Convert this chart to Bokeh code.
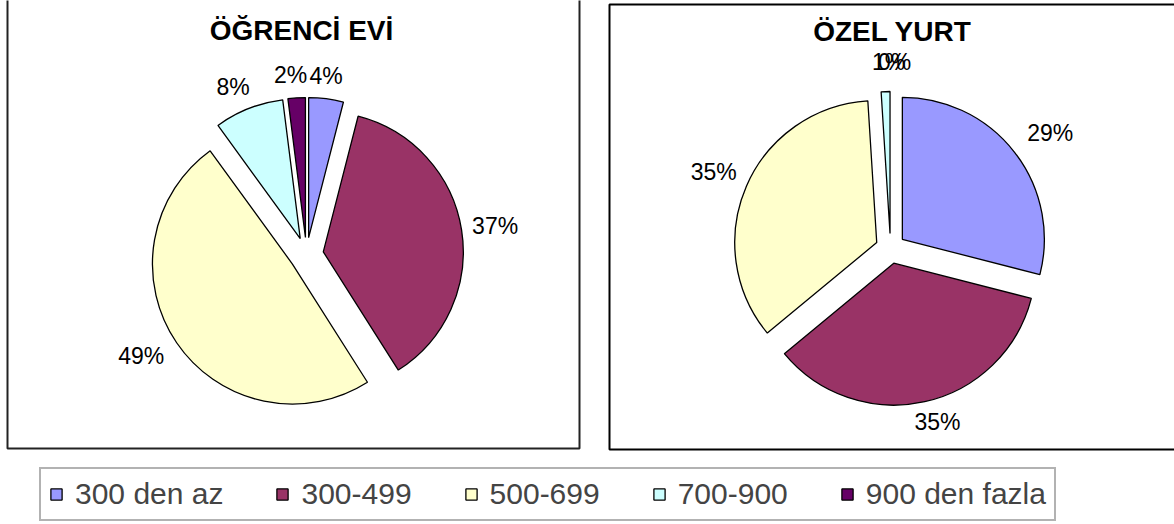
import math
from bokeh.plotting import figure
from bokeh.models import Range1d, ColumnDataSource, Legend, LegendItem, Label
from bokeh.embed import file_html
from bokeh.resources import INLINE
from bokeh.core.properties import value

# ---- data ----
categories = ["300 den az", "300-499", "500-699", "700-900", "900 den fazla"]
colors = ["#9999FF", "#993366", "#FFFFCC", "#CCFFFF", "#660066"]
ogrenci_evi = [4, 37, 49, 8, 2]
ozel_yurt = [29, 35, 35, 1, 0]
titles = ["ÖĞRENCİ EVİ", "ÖZEL YURT"]

FONT = "Liberation Sans"
W, H = 1174, 524

p = figure(width=W, height=H, output_backend="svg", toolbar_location=None,
           x_range=Range1d(0, W), y_range=Range1d(-H, 0),
           min_border=0, outline_line_color=None)
p.axis.visible = False
p.grid.visible = False
p.background_fill_color = "white"


def box(left, right, top, bottom, color="black"):
    p.quad(left=[left], right=[right], top=[-top], bottom=[-bottom],
           fill_alpha=0, line_color=color, line_width=2)


# chart area borders (page pixel coords; y data = -page_y)
box(7, 579, -10, 448, "#222222")
box(609, 1190, 4, 449)


def pie(values, cx, cy, r, d, title, tx, ty, label_fs=23, pad=14,
        lx_shift=0, ly_shift=0):
    total = float(sum(values))
    xs, ys, sa, ea, cols = [], [], [], [], []
    lx, ly, lt = [], [], []
    cum = 0.0
    for v, c in zip(values, colors):
        t1 = cum / total * 2 * math.pi
        cum += v
        t2 = cum / total * 2 * math.pi
        tm = (t1 + t2) / 2
        dx, dy = math.sin(tm), math.cos(tm)
        if v > 0:
            xs.append(cx + d * dx)
            ys.append(-cy + d * dy)
            sa.append(math.pi / 2 - t2)
            ea.append(math.pi / 2 - t1)
            cols.append(c)
        txt = f"{v}%"
        ndig = len(str(v))
        hw = (ndig * 0.556 + 0.889) * label_fs / 2
        hh = 0.716 * label_fs / 2
        dist = r + d + pad
        lx.append(cx + dx * dist + dx * hw + lx_shift)
        ly.append(-cy + dy * dist + dy * hh + ly_shift)
        lt.append(txt)
    src = ColumnDataSource(dict(x=xs, y=ys, sa=sa, ea=ea, color=cols))
    rend = p.wedge(x="x", y="y", radius=r, start_angle="sa", end_angle="ea",
                   direction="anticlock", fill_color="color",
                   line_color="black", line_width=1.3, source=src)
    lsrc = ColumnDataSource(dict(x=lx, y=ly, t=lt))
    p.text(x="x", y="y", text="t", source=lsrc, text_align="center",
           text_baseline="middle", text_font=value(FONT),
           text_font_size=f"{label_fs}px", text_color="black")
    p.add_layout(Label(x=tx, y=-ty, text=title, text_align="center",
                       text_baseline="middle", text_font=FONT,
                       text_font_size="28px", text_font_style="bold",
                       text_color="black"))
    return rend


r_left = pie(ogrenci_evi, 306, 254, 140, 17, titles[0], 301, 30, pad=15,
             lx_shift=-4)
r_right = pie(ozel_yurt, 890, 248, 142, 15, titles[1], 892, 31, pad=17,
              lx_shift=4, ly_shift=4)

items = [LegendItem(label=c, renderers=[r_left], index=i)
         for i, c in enumerate(categories)]
legend = Legend(items=items, orientation="horizontal", location=(39, 3),
                label_text_font=FONT, label_text_font_size="30px",
                glyph_width=14, glyph_height=14, label_standoff=12,
                spacing=52, padding=8, margin=0,
                border_line_color="#666666", border_line_width=2,
                background_fill_color="white", background_fill_alpha=1)
p.add_layout(legend)

open("out.html", "w").write(file_html(p, INLINE))
